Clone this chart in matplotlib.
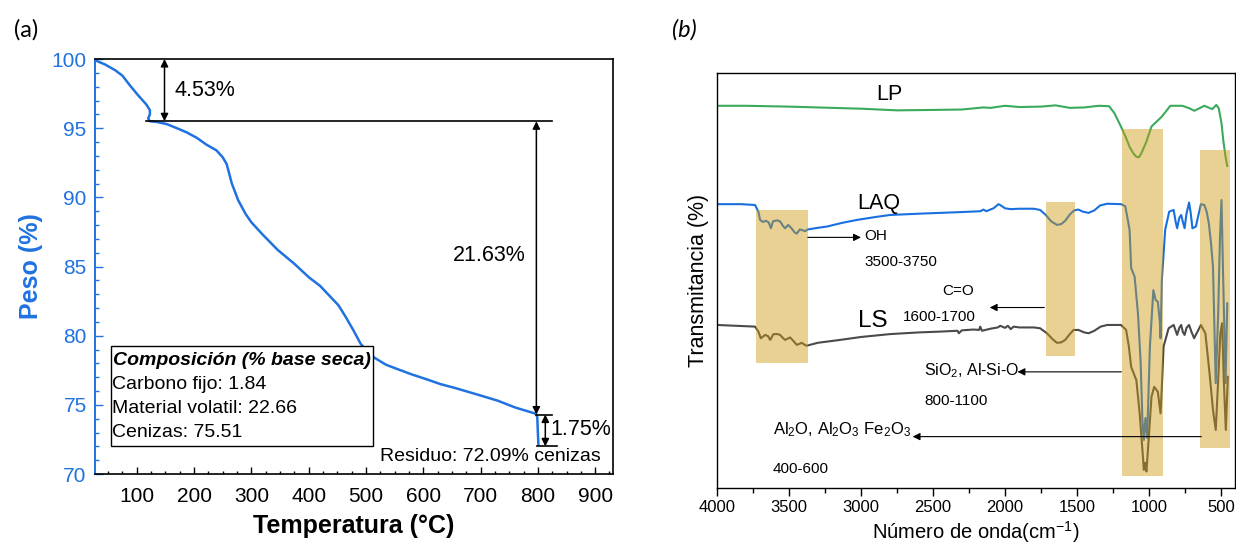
import matplotlib
matplotlib.use('Agg')
import matplotlib.pyplot as plt
import numpy as np
from matplotlib.patches import Rectangle
from matplotlib.ticker import MultipleLocator

plt.rcParams['font.family'] = ['Liberation Sans', 'DejaVu Sans']
plt.rcParams['mathtext.fontset'] = 'custom'
plt.rcParams['mathtext.rm'] = 'Liberation Sans'
plt.rcParams['mathtext.it'] = 'Liberation Sans:italic'
plt.rcParams['mathtext.bf'] = 'Liberation Sans:bold'

# ---------------- (a) TGA data ----------------
tga_temp = [28, 45, 62, 75, 88, 102, 117, 123, 123, 120, 123, 135, 152, 170, 187, 205,
            222, 239, 250, 257, 266, 277, 290, 300, 320, 346, 375, 401, 420, 436, 452,
            464, 478, 491, 500, 515, 535, 554, 580, 602, 630, 657, 698, 730, 761, 785,
            797, 799, 800, 801]
tga_peso = [99.9, 99.6, 99.2, 98.8, 98.1, 97.4, 96.7, 96.3, 96.0, 95.7, 95.5, 95.45, 95.3,
            95.0, 94.7, 94.3, 93.8, 93.4, 92.9, 92.4, 91.0, 89.8, 88.8, 88.2, 87.3, 86.2,
            85.2, 84.2, 83.6, 82.9, 82.2, 81.4, 80.4, 79.4, 79.0, 78.4, 77.9, 77.6, 77.2,
            76.9, 76.5, 76.2, 75.7, 75.3, 74.8, 74.5, 74.35, 74.1, 73.0, 72.1]
comp_lines = ["Carbono fijo: 1.84", "Material volatil: 22.66", "Cenizas: 75.51"]
loss_labels = ["4.53%", "21.63%", "1.75%"]

# ---------------- (b) FTIR data ----------------
lp_wn = [4000, 3800, 3500, 3200, 3000, 2750, 2500, 2300, 2150, 2100, 2000, 1900, 1750,
         1650, 1550, 1450, 1350, 1277, 1240, 1195, 1160, 1135, 1110, 1088, 1070, 1053,
         1020, 983, 911, 852, 769, 720, 686, 650, 616, 561, 533, 516, 497, 485, 470, 457]
lp_t = [92.0, 92.0, 91.8, 91.5, 91.3, 90.9, 91.0, 91.1, 91.6, 91.5, 92.0, 91.7, 91.8,
        92.1, 91.5, 91.6, 92.0, 91.9, 90.2, 87.0, 84.3, 82.1, 80.6, 79.7, 79.6, 80.6,
        83.2, 87.0, 89.4, 92.0, 92.0, 91.4, 90.8, 91.4, 92.0, 91.2, 92.2, 91.4, 87.8,
        83.8, 80.0, 77.5]

laq_wn = [4000, 3830, 3735, 3712, 3700, 3680, 3660, 3640, 3625, 3610, 3580, 3560, 3540,
          3526, 3505, 3485, 3460, 3445, 3425, 3405, 3388, 3370, 3300, 3237, 3130, 3028,
          2900, 2797, 2600, 2450, 2300, 2170, 2150, 2130, 2080, 2045, 2020, 2000, 1960,
          1900, 1800, 1756, 1720, 1680, 1640, 1610, 1582, 1550, 1520, 1490, 1460, 1420,
          1380, 1339, 1290, 1195, 1165, 1150, 1135, 1124, 1100, 1077, 1058, 1046, 1036,
          1025, 1013, 994, 970, 954, 939, 925, 920, 911, 888, 860, 829, 815, 805, 790,
          777, 765, 753, 740, 722, 710, 699, 675, 655, 640, 616, 600, 585, 570, 556, 537,
          520, 508, 497, 485, 469, 457]
laq_t = [68.3, 68.3, 68.1, 66.5, 64.5, 64.0, 64.3, 63.9, 62.5, 64.2, 64.4, 64.1, 63.0,
         62.5, 63.3, 62.6, 61.5, 61.2, 62.2, 62.0, 61.8, 62.2, 62.6, 62.9, 63.8, 64.5,
         65.2, 65.7, 66.0, 66.2, 66.4, 66.6, 67.0, 66.6, 67.3, 68.3, 67.8, 67.3, 67.1,
         67.2, 67.2, 66.9, 65.8, 64.2, 63.3, 63.5, 64.3, 65.8, 66.8, 67.0, 66.5, 66.2,
         66.8, 68.0, 68.4, 68.3, 67.8, 65.0, 62.1, 52.9, 50.8, 42.0, 30.0, 16.3, 11.5,
         16.8, 12.0, 34.0, 47.6, 45.2, 44.8, 40.0, 36.0, 50.0, 62.1, 66.5, 66.9, 64.0,
         62.5, 65.0, 65.7, 64.0, 62.5, 66.0, 68.7, 66.0, 62.5, 62.9, 66.0, 68.3, 68.1,
         66.5, 63.7, 59.0, 53.2, 25.2, 42.0, 59.7, 69.3, 50.0, 25.2, 44.4]

ls_wn = [4000, 3735, 3712, 3695, 3665, 3645, 3630, 3607, 3580, 3561, 3540, 3526, 3492,
         3460, 3445, 3410, 3390, 3376, 3300, 3144, 3000, 2797, 2600, 2450, 2330, 2320,
         2300, 2219, 2180, 2172, 2160, 2100, 2050, 2033, 2000, 1980, 1960, 1940, 1900,
         1800, 1756, 1709, 1670, 1640, 1610, 1582, 1550, 1524, 1490, 1450, 1419, 1380,
         1336, 1290, 1195, 1159, 1140, 1124, 1088, 1065, 1046, 1036, 1027, 1018, 1006,
         983, 964, 939, 920, 910, 899, 864, 829, 805, 790, 777, 765, 753, 740, 722, 705,
         687, 665, 640, 609, 580, 556, 537, 520, 505, 493, 481, 467, 453]
ls_t = [39.2, 38.8, 37.6, 36.0, 36.8, 36.5, 35.6, 37.0, 37.0, 36.8, 36.0, 35.6, 36.2,
        35.0, 34.4, 34.9, 34.4, 34.2, 34.9, 35.6, 36.3, 37.0, 37.4, 37.6, 37.8, 37.2,
        37.9, 38.1, 38.0, 38.8, 37.8, 38.3, 38.6, 39.0, 38.5, 39.0, 38.2, 38.8, 38.6,
        38.6, 38.4, 37.2, 35.8, 34.9, 35.0, 35.6, 37.0, 38.0, 38.0, 37.4, 37.2, 37.8,
        38.8, 39.2, 39.2, 38.0, 34.0, 29.1, 25.9, 17.9, 9.1, 4.3, 6.0, 3.9, 9.9, 21.9,
        24.3, 23.1, 17.9, 25.0, 34.0, 38.4, 39.2, 36.8, 38.5, 39.2, 37.5, 36.8, 38.5,
        39.2, 37.5, 36.0, 37.5, 39.2, 37.2, 27.6, 18.7, 13.9, 25.9, 37.2, 39.6, 25.9,
        13.9, 26.7]

# band regions (wavenumber ranges)
band_hi = [3725, 1716, 1190, 645]
band_lo = [3369, 1516, 905, 440]
band_top = [67.0, 68.9, 86.5, 81.3]
band_bot = [30.0, 31.7, 2.8, 9.6]

# ---------------- figure ----------------
BLUE = '#1f72e0'
fig = plt.figure(figsize=(12.36, 5.49), dpi=100)

# ===== panel (a) =====
ax = fig.add_axes([0.0769, 0.1366, 0.4190, 0.7559])
ax.plot(tga_temp, tga_peso, color=BLUE, lw=1.8, zorder=2, solid_capstyle='round')
ax.set_xlim(27.3, 931)
ax.set_ylim(70, 100)
ax.xaxis.set_major_locator(MultipleLocator(100))
ax.xaxis.set_minor_locator(MultipleLocator(25))
ax.yaxis.set_major_locator(MultipleLocator(5))
ax.yaxis.set_minor_locator(MultipleLocator(1))
ax.tick_params(axis='x', which='major', direction='in', length=5, width=1.0, labelsize=15, pad=9)
ax.tick_params(axis='x', which='minor', direction='in', length=2.5, width=1.0)
ax.tick_params(axis='y', which='major', direction='in', length=6, width=1.0, labelsize=15,
               colors=BLUE, pad=6)
ax.tick_params(axis='y', which='minor', direction='in', length=3, width=1.0, colors=BLUE)
for s in ['top', 'right', 'bottom']:
    ax.spines[s].set_linewidth(1.2)
ax.spines['left'].set_color(BLUE)
ax.spines['left'].set_linewidth(1.4)
ax.set_xlabel('Temperatura (°C)', fontsize=18, fontweight='bold', labelpad=6)
ax.set_ylabel('Peso (%)', fontsize=18, fontweight='bold', color=BLUE, labelpad=6)

# annotations
ax.plot([117, 824], [95.5, 95.5], color='black', lw=1.2, zorder=3)
ax.plot([797, 825], [74.3, 74.3], color='black', lw=1.2, zorder=3)
ax.plot([799, 833], [72.0, 72.0], color='black', lw=1.2, zorder=3)
arrow_kw = dict(arrowstyle='<|-|>', color='black', lw=1.1, mutation_scale=11,
                shrinkA=0, shrinkB=0)
ax.annotate('', xy=(148.5, 100), xytext=(148.5, 95.5), arrowprops=arrow_kw, zorder=3)
ax.annotate('', xy=(797.4, 95.5), xytext=(797.4, 74.3), arrowprops=arrow_kw, zorder=3)
ax.annotate('', xy=(813, 74.3), xytext=(813, 72.0), arrowprops=arrow_kw, zorder=3)
ax.text(166, 97.7, loss_labels[0], fontsize=15.5, va='center', ha='left')
ax.text(716, 85.8, loss_labels[1], fontsize=15.5, va='center', ha='center')
ax.text(822, 73.2, loss_labels[2], fontsize=15.5, va='center', ha='left')
ax.text(910, 71.3, 'Residuo: 72.09% cenizas', fontsize=14, va='center', ha='right')

box = Rectangle((55, 72.05), 458, 7.23, facecolor='white', edgecolor='black', lw=1.0, zorder=4)
ax.add_patch(box)
ax.text(58, 78.2, 'Composición (% base seca)', fontsize=14, fontweight='bold',
        fontstyle='italic', va='center', ha='left', zorder=5)
for yy, t in zip([76.5, 74.76, 73.0], comp_lines):
    ax.text(57, yy, t, fontsize=14, va='center', ha='left', zorder=5)

fig.text(0.011, 0.945, '(a)', fontsize=17, family='Lato', va='center', ha='left')

# ===== panel (b) =====
bx = fig.add_axes([0.5800, 0.1117, 0.4191, 0.7561])
bx.set_xlim(4000, 404)
bx.set_ylim(0, 100)
series = [(lp_wn, lp_t, '#3aaa5c'), (laq_wn, laq_t, '#1a6fe0'), (ls_wn, ls_t, '#4a4a4a')]
for wn, t, c in series:
    bx.plot(wn, t, color=c, lw=1.5, zorder=2)
for hi, lo, top, bot in zip(band_hi, band_lo, band_top, band_bot):
    r = Rectangle((lo, bot), hi - lo, top - bot, facecolor='#cc9b11', alpha=0.45,
                  edgecolor='none', zorder=3)
    bx.add_patch(r)

bx.xaxis.set_major_locator(MultipleLocator(500))
bx.xaxis.set_minor_locator(MultipleLocator(250))
bx.set_yticks([])
bx.tick_params(axis='x', which='major', direction='out', length=6, width=1.0, labelsize=12, pad=3)
bx.tick_params(axis='x', which='minor', direction='out', length=3.5, width=1.0)
for s in bx.spines.values():
    s.set_linewidth(1.0)
bx.set_xlabel('Número de onda(cm$^{-1}$)', fontsize=14.5, labelpad=3)
bx.set_ylabel('Transmitancia (%)', fontsize=15.5, labelpad=6)

bx.text(2806, 94.7, 'LP', fontsize=15.5, ha='center', va='center')
bx.text(2874, 68.5, 'LAQ', fontsize=15.5, ha='center', va='center')
bx.text(2915, 40.2, 'LS', fontsize=17.5, ha='center', va='center')
bx.text(2979, 60.6, 'OH', fontsize=11, ha='left', va='center')
bx.text(2979, 54.3, '3500-3750', fontsize=11, ha='left', va='center')
bx.text(2325, 47.3, 'C=O', fontsize=11, ha='center', va='center')
bx.text(2710, 41.0, '1600-1700', fontsize=11, ha='left', va='center')
bx.text(2559, 28.3, 'SiO$_2$, Al-Si-O', fontsize=11.5, ha='left', va='center')
bx.text(2559, 20.9, '800-1100', fontsize=11, ha='left', va='center')
bx.text(3610, 13.9, 'Al$_2$O, Al$_2$O$_3$ Fe$_2$O$_3$', fontsize=12, ha='left', va='center')
bx.text(3610, 4.6, '400-600', fontsize=11, ha='left', va='center')

akw = dict(arrowstyle='-|>', color='black', lw=0.8, mutation_scale=11, shrinkA=0, shrinkB=0)
bx.annotate('', xy=(3000, 60.3), xytext=(3369, 60.3), arrowprops=akw, zorder=6)
bx.annotate('', xy=(2106, 43.4), xytext=(1727, 43.4), arrowprops=akw, zorder=6)
bx.annotate('', xy=(1913, 27.9), xytext=(1192, 27.9), arrowprops=akw, zorder=6)
bx.annotate('', xy=(2641, 12.3), xytext=(637, 12.3), arrowprops=akw, zorder=6)

fig.text(0.544, 0.945, '(b)', fontsize=17, family='Lato', fontstyle='italic',
         va='center', ha='left')

fig.savefig('out.png', dpi=100)
